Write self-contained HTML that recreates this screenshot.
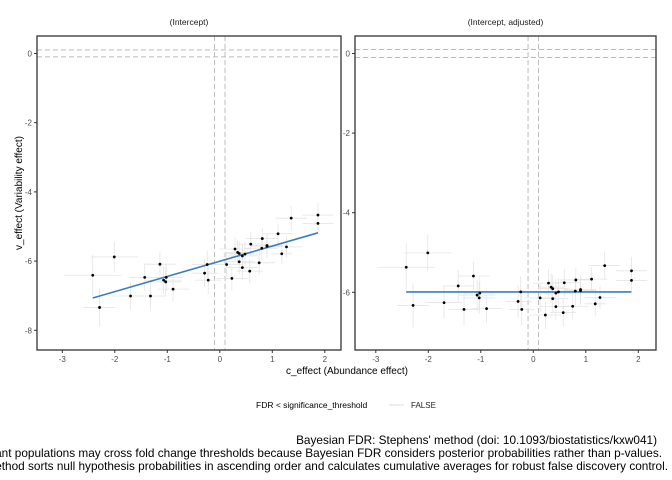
<!DOCTYPE html>
<html><head><meta charset="utf-8"><style>
html,body{margin:0;padding:0;background:#fff;width:672px;height:480px;overflow:hidden}
svg text{font-family:"Liberation Sans",Arial,sans-serif}
</style></head><body>
<svg id="chart" width="672" height="480" viewBox="0 0 672 480" xmlns="http://www.w3.org/2000/svg">
<text x="347" y="374" font-size="10" text-anchor="middle" fill="#000">c_effect (Abundance effect)</text>
<text transform="translate(22,193) rotate(-90)" font-size="10" text-anchor="middle" fill="#000">v_effect (Variability effect)</text>
<g>
<text x="256" y="408" font-size="8.5" fill="#000">FDR &lt; significance_threshold</text>
<line x1="389" y1="405" x2="404" y2="405" stroke="#ddd" stroke-width="1"/>
<text x="411" y="408" font-size="8" fill="#222">FALSE</text>
</g>
<g font-size="11.8" fill="#000" text-anchor="end">
<text x="657" y="444">Bayesian FDR: Stephens' method (doi: 10.1093/biostatistics/kxw041)</text>
<text x="662" y="457">Significant populations may cross fold change thresholds because Bayesian FDR considers posterior probabilities rather than p-values.</text>
<text x="668" y="470">The method sorts null hypothesis probabilities in ascending order and calculates cumulative averages for robust false discovery control.</text>
</g>
</svg>
<script>
const cEffect=[-2.42,-2.01,-2.29,-1.70,-1.43,-1.32,-1.14,-1.07,-1.02,-1.03,-0.89,-0.29,-0.24,-0.22,0.13,0.23,0.29,0.34,0.37,0.37,0.43,0.43,0.48,0.57,0.59,0.75,0.80,0.81,0.90,0.90,1.11,1.18,1.27,1.36,1.87,1.87];
const vEffect=[-6.41,-5.88,-7.34,-7.01,-6.47,-7.01,-6.09,-6.55,-6.47,-6.60,-6.81,-6.35,-6.10,-6.55,-6.10,-6.50,-5.65,-5.75,-5.78,-6.02,-5.85,-6.19,-5.80,-6.29,-5.51,-6.05,-5.63,-5.35,-5.57,-5.55,-5.21,-5.79,-5.59,-4.76,-4.67,-4.91];
const vAdjusted=[-5.37,-5.01,-6.33,-6.26,-5.84,-6.43,-5.59,-6.07,-6.02,-6.14,-6.41,-6.23,-5.99,-6.43,-6.14,-6.57,-5.77,-5.87,-5.91,-6.16,-6.02,-6.36,-5.99,-6.51,-5.76,-6.35,-5.97,-5.69,-5.96,-5.93,-5.67,-6.29,-6.13,-5.33,-5.46,-5.70];
const xErr=[0.55,0.45,0.3,0.35,0.3,0.3,0.3,0.35,0.3,0.3,0.3,0.25,0.3,0.25,0.3,0.3,0.3,0.25,0.3,0.3,0.3,0.3,0.3,0.25,0.3,0.3,0.3,0.3,0.3,0.3,0.3,0.2,0.3,0.3,0.3,0.3];
const yErr=[0.6,0.45,0.55,0.4,0.4,0.4,0.35,0.4,0.4,0.4,0.35,0.4,0.4,0.4,0.35,0.35,0.35,0.35,0.35,0.35,0.35,0.35,0.35,0.35,0.35,0.35,0.35,0.3,0.35,0.35,0.3,0.3,0.3,0.35,0.35,0.3];
const xTicks=[-3,-2,-1,0,1,2];
const leftYTicks=[0,-2,-4,-6,-8];
const rightYTicks=[0,-2,-4,-6];
const panelTitles=["(Intercept)","(Intercept, adjusted)"];

const NS="http://www.w3.org/2000/svg";
const svg=document.getElementById('chart');
function mk(tag,attrs,parent){const e=document.createElementNS(NS,tag);for(const k in attrs)e.setAttribute(k,attrs[k]);(parent||svg).appendChild(e);return e;}
function ols(xs,ys){const n=xs.length;let mx=0,my=0;for(let i=0;i<n;i++){mx+=xs[i];my+=ys[i];}mx/=n;my/=n;let sxy=0,sxx=0;for(let i=0;i<n;i++){sxy+=(xs[i]-mx)*(ys[i]-my);sxx+=(xs[i]-mx)**2;}const b=sxy/sxx;return [my-b*mx,b];}
function flat(xs,ys){let my=0;for(const v of ys)my+=v;return [my/ys.length,0];}

function panel(idx,px0,px1,xmin,xmax,ymin,ymax,ys,yTicks,fit){
  const py0=36,py1=350;
  const g=mk('g',{});
  
  
  const sx=v=>px0+(v-xmin)/(xmax-xmin)*(px1-px0);
  const sy=v=>py1-(v-ymin)/(ymax-ymin)*(py1-py0);
  const t=mk('text',{x:(px0+px1)/2,y:25,'font-size':'8.5','text-anchor':'middle',fill:'#1a1a1a'},g);
  t.textContent=panelTitles[idx];
  
  
  [-0.1,0.1].forEach(v=>{
    const l=mk('line',{x1:px0,x2:px1,y1:sy(v),y2:sy(v),stroke:'#bbb','stroke-dasharray':'5,3','stroke-width':1},g);
    
    
    const l2=mk('line',{x1:sx(v),x2:sx(v),y1:py0,y2:py1,stroke:'#bbb','stroke-dasharray':'5,3','stroke-width':1},g);
    
    
  });
  for(let i=0;i<cEffect.length;i++){
    const a=mk('line',{x1:sx(cEffect[i]-xErr[i]),x2:sx(cEffect[i]+xErr[i]),y1:sy(ys[i]),y2:sy(ys[i]),stroke:'#e4e4e4','stroke-width':0.8},g);
    
    
    const b=mk('line',{x1:sx(cEffect[i]),x2:sx(cEffect[i]),y1:sy(ys[i]-yErr[i]),y2:sy(ys[i]+yErr[i]),stroke:'#e4e4e4','stroke-width':0.8},g);
    
    
  }
  const [a0,b0]=fit(cEffect,ys);
  const xl=Math.min(...cEffect),xr=Math.max(...cEffect);
  const rl=mk('line',{x1:sx(xl),x2:sx(xr),y1:sy(a0+b0*xl),y2:sy(a0+b0*xr),stroke:'#3a7dbf','stroke-width':1.6},g);
  
  
  for(let i=0;i<cEffect.length;i++){
    const p=mk('circle',{cx:sx(cEffect[i]),cy:sy(ys[i]),r:1.4,fill:'#000'},g);
    
    
  }
  const fr=mk('rect',{x:px0,y:py0,width:px1-px0,height:py1-py0,fill:'none',stroke:'#333','stroke-width':1.3},g);
  
  
  xTicks.forEach(v=>{
    mk('line',{x1:sx(v),x2:sx(v),y1:py1,y2:py1+3,stroke:'#333'},g);
    const tt=mk('text',{x:sx(v),y:py1+12,'font-size':'8','text-anchor':'middle',fill:'#4d4d4d'},g);
    tt.textContent=v;
    
    
  });
  yTicks.forEach(v=>{
    mk('line',{x1:px0-3,x2:px0,y1:sy(v),y2:sy(v),stroke:'#333'},g);
    const tt=mk('text',{x:px0-5,y:sy(v)+3,'font-size':'8','text-anchor':'end',fill:'#4d4d4d'},g);
    tt.textContent=v;
    
    
  });
}
panel(0,37,341,-3.4816,2.3086,-8.57,0.505,vEffect,leftYTicks,ols);
panel(1,355,656,-3.3962,2.3371,-7.45,0.44,vAdjusted,rightYTicks,flat);
</script>
</body></html>
